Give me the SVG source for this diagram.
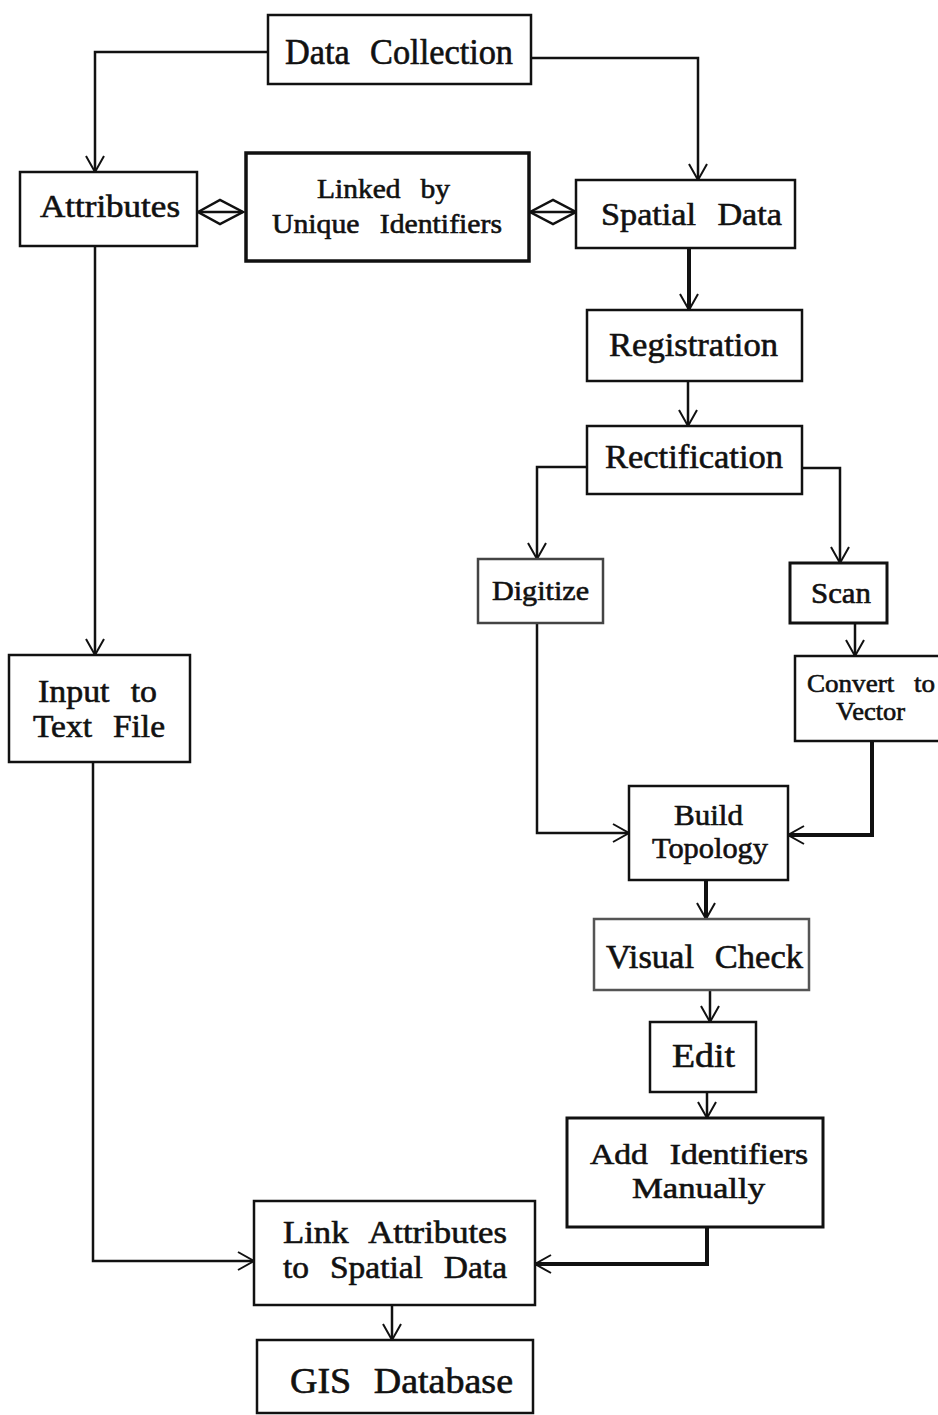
<svg xmlns="http://www.w3.org/2000/svg" width="938" height="1415" viewBox="0 0 938 1415">
  <style>
    .box { fill: #ffffff; stroke: #111111; stroke-width: 2.5; }
    .lbl { font-family: "Liberation Serif", "Times New Roman", serif; fill: #111111; stroke: #111111; stroke-width: 0.6; word-spacing: 12px; }
    .wire { fill: none; stroke: #111111; stroke-width: 2.5; }
    .heavy { stroke-width: 4; }
    .link { fill: #ffffff; stroke: #111111; stroke-width: 2.5; }
  </style>
  <defs>
    <marker id="open" viewBox="-20 -12 24 24" markerWidth="24" markerHeight="24" refX="0" refY="0" orient="auto" markerUnits="userSpaceOnUse">
      <path d="M-16,-9 L0,0 L-16,9" fill="none" stroke="#111111" stroke-width="2"/>
    </marker>
  </defs>
  <rect width="938" height="1415" fill="#ffffff"/>

  <g id="connectors">
    <path class="wire" d="M268,52 H95 V172" marker-end="url(#open)"/>
    <path class="wire" d="M531,58 H698 V180" marker-end="url(#open)"/>
    <path class="wire" d="M95,246 V655" marker-end="url(#open)"/>
    <path class="wire heavy" d="M689,248 V310" marker-end="url(#open)"/>
    <path class="wire" d="M688,381 V426" marker-end="url(#open)"/>
    <path class="wire" d="M587,467 H537 V559" marker-end="url(#open)"/>
    <path class="wire" d="M802,468 H840 V563" marker-end="url(#open)"/>
    <path class="wire" d="M855,623 V656" marker-end="url(#open)"/>
    <path class="wire" d="M537,623 V833 H629" marker-end="url(#open)"/>
    <path class="wire heavy" d="M872,741 V835 H788" marker-end="url(#open)"/>
    <path class="wire heavy" d="M706,880 V919" marker-end="url(#open)"/>
    <path class="wire" d="M710,990 V1022" marker-end="url(#open)"/>
    <path class="wire" d="M707,1092 V1118" marker-end="url(#open)"/>
    <path class="wire heavy" d="M707,1227 V1264 H535" marker-end="url(#open)"/>
    <path class="wire" d="M93,762 V1261 H254" marker-end="url(#open)"/>
    <path class="wire" d="M392,1305 V1340" marker-end="url(#open)"/>
    <!-- two-way links to the identifier box -->
    <polygon class="link" points="198,212 220,200 243,212 220,224"/>
    <line class="wire" x1="198" y1="212" x2="243" y2="212"/>
    <polygon class="link" points="530,212 553,200 576,212 553,224"/>
    <line class="wire" x1="530" y1="212" x2="576" y2="212"/>
  </g>

  <g id="data-collection">
    <rect class="box" x="268" y="15" width="263" height="69"/>
    <text class="lbl" x="285" y="64" font-size="35" textLength="228" lengthAdjust="spacingAndGlyphs">Data Collection</text>
  </g>
  <g id="attributes">
    <rect class="box" x="20" y="172" width="177" height="74"/>
    <text class="lbl" x="40" y="217" font-size="32" textLength="140" lengthAdjust="spacingAndGlyphs">Attributes</text>
  </g>
  <g id="linked-by-ids">
    <rect class="box" x="246" y="153" width="283" height="108" style="stroke-width:3.5"/>
    <text class="lbl" x="317" y="198" font-size="28" textLength="133" lengthAdjust="spacingAndGlyphs">Linked by</text>
    <text class="lbl" x="272" y="233" font-size="28" textLength="230" lengthAdjust="spacingAndGlyphs">Unique Identifiers</text>
  </g>
  <g id="spatial-data">
    <rect class="box" x="576" y="180" width="219" height="68"/>
    <text class="lbl" x="601" y="225" font-size="32" textLength="181" lengthAdjust="spacingAndGlyphs">Spatial Data</text>
  </g>
  <g id="registration">
    <rect class="box" x="587" y="310" width="215" height="71"/>
    <text class="lbl" x="609" y="356" font-size="34" textLength="169" lengthAdjust="spacingAndGlyphs">Registration</text>
  </g>
  <g id="rectification">
    <rect class="box" x="587" y="426" width="215" height="68"/>
    <text class="lbl" x="605" y="468" font-size="34" textLength="178" lengthAdjust="spacingAndGlyphs">Rectification</text>
  </g>
  <g id="digitize">
    <rect class="box" x="478" y="559" width="125" height="64" style="stroke:#444444"/>
    <text class="lbl" x="492" y="600" font-size="28" textLength="97" lengthAdjust="spacingAndGlyphs">Digitize</text>
  </g>
  <g id="scan">
    <rect class="box" x="790" y="563" width="97" height="60" style="stroke-width:3"/>
    <text class="lbl" x="811" y="603" font-size="29" textLength="60" lengthAdjust="spacingAndGlyphs">Scan</text>
  </g>
  <g id="convert-to-vector">
    <rect class="box" x="795" y="656" width="160" height="85"/>
    <text class="lbl" x="807" y="692" font-size="25" textLength="128" lengthAdjust="spacingAndGlyphs">Convert to</text>
    <text class="lbl" x="836" y="720" font-size="25" textLength="69" lengthAdjust="spacingAndGlyphs">Vector</text>
  </g>
  <g id="input-text-file">
    <rect class="box" x="9" y="655" width="181" height="107"/>
    <text class="lbl" x="38" y="702" font-size="32" textLength="119" lengthAdjust="spacingAndGlyphs">Input to</text>
    <text class="lbl" x="33" y="737" font-size="32" textLength="132" lengthAdjust="spacingAndGlyphs">Text File</text>
  </g>
  <g id="build-topology">
    <rect class="box" x="629" y="786" width="159" height="94"/>
    <text class="lbl" x="674" y="825" font-size="30" textLength="69" lengthAdjust="spacingAndGlyphs">Build</text>
    <text class="lbl" x="652" y="858" font-size="30" textLength="116" lengthAdjust="spacingAndGlyphs">Topology</text>
  </g>
  <g id="visual-check">
    <rect class="box" x="594" y="919" width="215" height="71" style="stroke:#555555"/>
    <text class="lbl" x="606" y="968" font-size="34" textLength="197" lengthAdjust="spacingAndGlyphs">Visual Check</text>
  </g>
  <g id="edit">
    <rect class="box" x="650" y="1022" width="106" height="70"/>
    <text class="lbl" x="672" y="1067" font-size="34" textLength="63" lengthAdjust="spacingAndGlyphs">Edit</text>
  </g>
  <g id="add-identifiers">
    <rect class="box" x="567" y="1118" width="256" height="109" style="stroke-width:3"/>
    <text class="lbl" x="590" y="1164" font-size="30" textLength="218" lengthAdjust="spacingAndGlyphs">Add Identifiers</text>
    <text class="lbl" x="632" y="1198" font-size="30" textLength="133" lengthAdjust="spacingAndGlyphs">Manually</text>
  </g>
  <g id="link-attributes">
    <rect class="box" x="254" y="1201" width="281" height="104"/>
    <text class="lbl" x="283" y="1243" font-size="32" textLength="224" lengthAdjust="spacingAndGlyphs">Link Attributes</text>
    <text class="lbl" x="283" y="1278" font-size="32" textLength="224" lengthAdjust="spacingAndGlyphs">to Spatial Data</text>
  </g>
  <g id="gis-database">
    <rect class="box" x="257" y="1340" width="276" height="73"/>
    <text class="lbl" x="290" y="1393" font-size="35" textLength="223" lengthAdjust="spacingAndGlyphs">GIS Database</text>
  </g>
</svg>
